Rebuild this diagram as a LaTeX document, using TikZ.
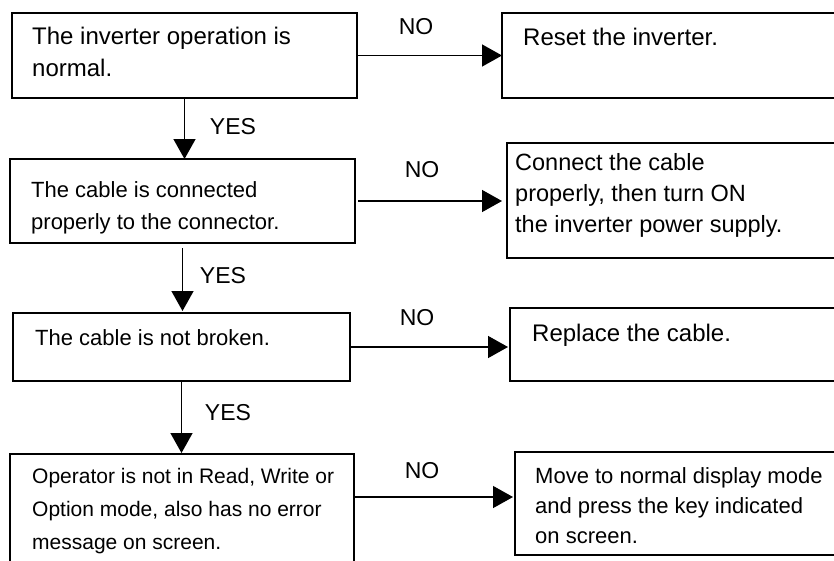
\documentclass[tikz,border=0pt]{standalone}
\usepackage{fontspec}
\setmainfont{Liberation Sans}
\usetikzlibrary{arrows.meta,calc}

\begin{document}
\begin{tikzpicture}[x=1pt,y=-1pt,
  box/.style={draw,line width=1.6pt,inner sep=0pt,outer sep=0pt},
  txt/.style={anchor=base west,inner sep=0pt,align=left},
  flow/.style={line width=1.4pt,-{Triangle[length=20pt,width=22pt]}},
  answer/.style={inner sep=0pt,font=\fontsize{23}{27}\selectfont}]
  \useasboundingbox (0,0) rectangle (834,560);

  % left column: checks
  \node[box,minimum width=345pt,minimum height=85pt] (normal) at (184.5,55.5) {};
  \node[box,minimum width=345pt,minimum height=84pt] (connected) at (182.5,201) {};
  \node[box,minimum width=337pt,minimum height=68pt] (broken) at (181.5,347) {};
  \node[box,minimum width=344pt,minimum height=111pt] (opmode) at (182,509.5) {};

  % right column: remedies
  \node[box,minimum width=336pt,minimum height=85pt] (reset) at (670,55.5) {};
  \node[box,minimum width=331pt,minimum height=115pt] (reconnect) at (672.5,200.5) {};
  \node[box,minimum width=328pt,minimum height=73pt] (replace) at (674,344.5) {};
  \node[box,minimum width=323pt,minimum height=103pt] (display) at (676.5,503.5) {};

  % texts (base = last line)
  \node[txt,font=\fontsize{24}{32}\selectfont] (normal-t) at (32,76) {The inverter operation is\\normal.};
  \node[txt,font=\fontsize{22}{32}\selectfont] (connected-t) at (31,229) {The cable is connected\\properly to the connector.};
  \node[txt,font=\fontsize{22}{32}\selectfont] (broken-t) at (35,345) {The cable is not broken.};
  \node[txt,font=\fontsize{21}{33}\selectfont] (opmode-t) at (32,549) {Operator is not in Read, Write or\\Option mode, also has no error\\message on screen.};
  \node[txt,font=\fontsize{24}{32}\selectfont] (reset-t) at (523,45) {Reset the inverter.};
  \node[txt,font=\fontsize{23.5}{31}\selectfont] (reconnect-t) at (515,232) {Connect the cable\\properly, then turn ON\\the inverter power supply.};
  \node[txt,font=\fontsize{24}{32}\selectfont] (replace-t) at (532,341) {Replace the cable.};
  \node[txt,font=\fontsize{22}{30}\selectfont] (display-t) at (535,543) {Move to normal display mode\\and press the key indicated\\on screen.};

  % NO branches
  \draw[flow] (normal.east) -- (reset.west);
  \draw[flow,shorten <=3pt,shorten >=5pt] (connected.east) -- (connected.east -| reconnect.west);
  \draw[flow,shorten >=2pt] (broken.east) -- (broken.east -| replace.west);
  \draw[flow,shorten >=2pt] ([yshift=12.5pt]opmode.east) -- ([yshift=12.5pt]opmode.east -| display.west);
  \node[answer] (no1) at (416,27) {NO};
  \node[answer] (no2) at (422,170) {NO};
  \node[answer] (no3) at (417,318) {NO};
  \node[answer] (no4) at (422,471) {NO};

  % YES branches
  \draw[flow] (normal.south) -- (normal.south |- connected.north);
  \draw[flow,shorten <=5pt,shorten >=2pt] (connected.south) -- (connected.south |- broken.north);
  \draw[flow,shorten >=1pt] (broken.south) -- (broken.south |- opmode.north);
  \node[answer] (yes1) at (233,127) {YES};
  \node[answer] (yes2) at (223,276) {YES};
  \node[answer] (yes3) at (228,413) {YES};
\end{tikzpicture}
\end{document}
